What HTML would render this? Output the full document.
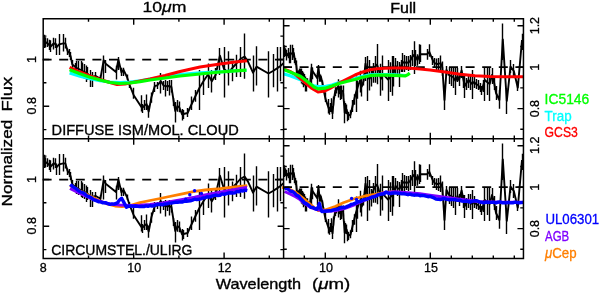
<!DOCTYPE html><html><head><meta charset="utf-8"><title>plot</title><style>html,body{margin:0;padding:0;background:#fff;overflow:hidden}svg{display:block}</style></head><body><svg width="600" height="293" viewBox="0 0 600 293">
<rect width="600" height="293" fill="#fff"/>
<path d="M42.6,59.55H51.6M59.2,59.55H68.2M75.8,59.55H84.8M92.4,59.55H101.4M109.0,59.55H118.0M125.6,59.55H134.6M142.2,59.55H151.2M158.8,59.55H167.8M175.4,59.55H184.4M192.0,59.55H201.0M208.6,59.55H217.6M225.2,59.55H234.2M241.8,59.55H250.8M258.4,59.55H267.4M275.0,59.55H283.6" stroke="#000" stroke-width="1.7" fill="none"/>
<path d="M283.0,67.2H292.0M299.6,67.2H308.6M316.2,67.2H325.2M332.8,67.2H341.8M349.4,67.2H358.4M366.0,67.2H375.0M382.6,67.2H391.6M399.2,67.2H408.2M415.8,67.2H424.8M432.4,67.2H441.4M449.0,67.2H458.0M465.6,67.2H474.6M482.2,67.2H491.2M498.8,67.2H507.8M515.4,67.2H523.5" stroke="#000" stroke-width="1.7" fill="none"/>
<path d="M42.6,179.55H51.6M59.2,179.55H68.2M75.8,179.55H84.8M92.4,179.55H101.4M109.0,179.55H118.0M125.6,179.55H134.6M142.2,179.55H151.2M158.8,179.55H167.8M175.4,179.55H184.4M192.0,179.55H201.0M208.6,179.55H217.6M225.2,179.55H234.2M241.8,179.55H250.8M258.4,179.55H267.4M275.0,179.55H283.6" stroke="#000" stroke-width="1.7" fill="none"/>
<path d="M283.0,187.2H292.0M299.6,187.2H308.6M316.2,187.2H325.2M332.8,187.2H341.8M349.4,187.2H358.4M366.0,187.2H375.0M382.6,187.2H391.6M399.2,187.2H408.2M415.8,187.2H424.8M432.4,187.2H441.4M449.0,187.2H458.0M465.6,187.2H474.6M482.2,187.2H491.2M498.8,187.2H507.8M515.4,187.2H523.5" stroke="#000" stroke-width="1.7" fill="none"/>
<g>
<path d="M44.5,34.7V48.0M45.5,37.2V47.4M47.5,38.2V47.0M49.5,39.8V50.0M50.5,40.3V52.0M53.5,37.7V49.5M55.5,38.2V48.0M56.5,43.4V55.1M59.5,34.1V55.1M63.5,34.1V51.5M65.5,37.7V48.5M67.5,48.5V55.0M69.5,49.0V57.0M70.5,52.0V60.0M72.5,60.0V68.0M75.5,63.0V72.0M76.5,60.9V74.0M78.5,60.9V75.0M81.5,60.9V77.0M82.5,62.4V78.0M84.5,63.9V79.0M86.5,65.5V82.0M87.5,67.0V80.0M90.5,70.0V87.0M92.5,72.0V87.0M95.5,72.0V80.0M100.5,75.0V82.0M103.5,55.5V79.4M105.5,60.0V73.0M116.5,65.7V79.4M118.5,57.0V70.0M121.5,67.8V76.0M123.5,67.8V76.0M127.5,74.6V80.0M129.5,82.0V88.0M133.5,87.7V98.7M141.5,95.2V111.6M142.5,104.0V113.0M144.5,100.0V110.0M146.5,94.6V110.0M148.5,105.5V117.8M151.5,92.5V102.8M154.5,82.0V92.0M157.5,82.0V89.0M160.5,73.0V93.5M163.5,81.0V90.0M165.5,80.0V96.6M167.5,81.0V91.0M169.5,80.0V95.5M171.5,80.0V92.5M173.5,98.0V106.0M175.5,102.0V122.6M177.5,100.0V111.7M179.5,101.4V112.3M182.5,109.0V120.5M183.5,110.0V119.0M187.5,108.0V117.0M191.5,96.6V110.0M195.5,90.0V101.8M199.5,70.0V110.0M203.5,74.5V95.0M208.5,63.4V88.0M211.5,70.0V92.4M215.5,68.0V80.0M219.5,48.0V75.0M224.5,47.0V97.5M228.5,51.3V85.6M232.5,61.5V81.3M236.5,54.7V77.0M240.5,47.0V77.0M244.5,33.4V78.8M253.5,55.6V91.6M256.5,46.2V85.6M268.5,51.3V97.5M273.5,54.0V87.3M277.5,47.0V91.6M280.5,47.0V81.3" stroke="#000" stroke-width="1.4" fill="none"/><path d="M43.5,41.3 L44.6,41.0 L45.9,42.5 L47.2,43.0 L49.2,45.0 L50.7,46.5 L53.1,44.0 L55.1,43.5 L56.9,47.0 L59.1,44.4 L63.3,43.4 L65.4,43.4 L67.6,51.0 L69.2,52.6 L70.7,56.7 L72.3,64.4 L75.4,67.0 L76.9,68.0 L78.9,69.0 L81.0,70.0 L82.7,71.0 L84.6,72.0 L86.4,73.0 L87.8,74.0 L90.0,76.0 L92.0,77.0 L95.8,76.0 L100.4,78.7 L103.7,60.2 L105.7,63.7 L116.0,72.0 L118.4,59.6 L121.5,72.5 L123.5,69.8 L127.0,77.0 L129.6,85.0 L133.7,95.2 L141.2,106.8 L142.5,107.5 L144.6,105.5 L146.6,104.0 L148.7,111.6 L151.4,97.3 L154.8,86.0 L157.3,85.3 L160.9,81.2 L163.4,85.3 L165.0,86.0 L167.0,86.3 L169.0,86.0 L171.4,87.0 L173.9,102.7 L175.3,111.0 L177.4,106.0 L179.4,107.5 L182.1,114.4 L183.5,114.0 L187.6,113.0 L191.0,105.5 L195.5,96.0 L199.4,88.0 L203.6,81.0 L208.0,74.5 L211.8,81.3 L215.6,75.0 L219.9,55.6 L224.0,69.0 L228.4,72.7 L232.7,67.5 L236.0,64.0 L240.3,59.0 L244.6,56.5 L248.0,61.6 L253.0,72.7 L256.5,66.7 L268.5,73.5 L273.0,71.0 L277.0,68.4 L280.4,66.0 L283.5,63.3" stroke="#000" stroke-width="1.9" fill="none" stroke-linejoin="round"/>
<path d="M44.5,154.7V168.0M45.5,157.2V167.4M47.5,158.2V167.0M49.5,159.8V170.0M50.5,160.3V172.0M53.5,157.7V169.5M55.5,158.2V168.0M56.5,163.4V175.1M59.5,154.1V175.1M63.5,154.1V171.5M65.5,157.7V168.5M67.5,168.5V175.0M69.5,169.0V177.0M70.5,172.0V180.0M72.5,180.0V188.0M75.5,183.0V192.0M76.5,180.9V194.0M78.5,180.9V195.0M81.5,180.9V197.0M82.5,182.4V198.0M84.5,183.9V199.0M86.5,185.5V202.0M87.5,187.0V200.0M90.5,190.0V207.0M92.5,192.0V207.0M95.5,192.0V200.0M100.5,195.0V202.0M103.5,175.5V199.4M105.5,180.0V193.0M116.5,185.7V199.4M118.5,177.0V190.0M121.5,187.8V196.0M123.5,187.8V196.0M127.5,194.6V200.0M129.5,202.0V208.0M133.5,207.7V218.7M141.5,215.2V231.6M142.5,224.0V233.0M144.5,220.0V230.0M146.5,214.6V230.0M148.5,225.5V237.8M151.5,212.5V222.8M154.5,202.0V212.0M157.5,202.0V209.0M160.5,193.0V213.5M163.5,201.0V210.0M165.5,200.0V216.6M167.5,201.0V211.0M169.5,200.0V215.5M171.5,200.0V212.5M173.5,218.0V226.0M175.5,222.0V242.6M177.5,220.0V231.7M179.5,221.4V232.3M182.5,229.0V240.5M183.5,230.0V239.0M187.5,228.0V237.0M191.5,216.6V230.0M195.5,210.0V221.8M199.5,190.0V230.0M203.5,194.5V215.0M208.5,183.4V208.0M211.5,190.0V212.4M215.5,188.0V200.0M219.5,168.0V195.0M224.5,167.0V217.5M228.5,171.3V205.6M232.5,181.5V201.3M236.5,174.7V197.0M240.5,167.0V197.0M244.5,153.4V198.8M253.5,175.6V211.6M256.5,166.2V205.6M268.5,171.3V217.5M273.5,174.0V207.3M277.5,167.0V211.6M280.5,167.0V201.3" stroke="#000" stroke-width="1.4" fill="none"/><path d="M43.5,161.3 L44.6,161.0 L45.9,162.5 L47.2,163.0 L49.2,165.0 L50.7,166.5 L53.1,164.0 L55.1,163.5 L56.9,167.0 L59.1,164.4 L63.3,163.4 L65.4,163.4 L67.6,171.0 L69.2,172.6 L70.7,176.7 L72.3,184.4 L75.4,187.0 L76.9,188.0 L78.9,189.0 L81.0,190.0 L82.7,191.0 L84.6,192.0 L86.4,193.0 L87.8,194.0 L90.0,196.0 L92.0,197.0 L95.8,196.0 L100.4,198.7 L103.7,180.2 L105.7,183.7 L116.0,192.0 L118.4,179.6 L121.5,192.5 L123.5,189.8 L127.0,197.0 L129.6,205.0 L133.7,215.2 L141.2,226.8 L142.5,227.5 L144.6,225.5 L146.6,224.0 L148.7,231.6 L151.4,217.3 L154.8,206.0 L157.3,205.3 L160.9,201.2 L163.4,205.3 L165.0,206.0 L167.0,206.3 L169.0,206.0 L171.4,207.0 L173.9,222.7 L175.3,231.0 L177.4,226.0 L179.4,227.5 L182.1,234.4 L183.5,234.0 L187.6,233.0 L191.0,225.5 L195.5,216.0 L199.4,208.0 L203.6,201.0 L208.0,194.5 L211.8,201.3 L215.6,195.0 L219.9,175.6 L224.0,189.0 L228.4,192.7 L232.7,187.5 L236.0,184.0 L240.3,179.0 L244.6,176.5 L248.0,181.6 L253.0,192.7 L256.5,186.7 L268.5,193.5 L273.0,191.0 L277.0,188.4 L280.4,186.0 L283.5,183.3" stroke="#000" stroke-width="1.9" fill="none" stroke-linejoin="round"/>
<path d="M284.5,45.2V57.0M284.5,47.4V56.5M285.5,48.3V56.1M286.5,49.7V58.8M286.5,50.2V60.5M288.5,47.9V58.3M288.5,48.3V57.0M289.5,52.9V63.3M290.5,44.7V63.3M292.5,44.7V60.1M293.5,47.9V57.4M294.5,57.4V63.2M295.5,57.9V65.0M296.5,60.5V67.6M296.5,67.6V74.7M298.5,70.3V78.3M299.5,68.4V80.1M300.5,68.4V80.9M301.5,68.4V82.7M301.5,69.8V83.6M302.5,71.1V84.5M303.5,72.5V87.2M304.5,73.9V85.4M305.5,76.5V91.6M306.5,78.3V91.6M307.5,78.3V85.4M310.5,80.9V87.2M311.5,63.7V84.9M312.5,67.6V79.2M317.5,72.7V84.9M318.5,65.0V76.5M319.5,74.6V81.8M320.5,74.6V81.8M322.5,80.6V85.4M323.5,87.2V92.5M325.5,92.2V102.0M328.5,98.9V113.4M329.5,106.7V114.7M330.5,103.1V112.0M331.5,98.3V112.0M332.5,108.0V118.9M333.5,96.5V105.6M335.5,87.2V96.0M336.5,87.2V93.4M338.5,79.2V97.4M339.5,86.3V94.3M340.5,85.4V100.1M340.5,86.3V95.1M341.5,85.4V99.1M343.5,85.4V96.5M344.5,101.3V108.4M344.5,104.9V123.2M345.5,103.1V113.5M346.5,104.4V114.0M347.5,111.1V121.3M348.5,112.0V120.0M350.5,110.2V118.2M352.5,100.1V112.0M354.5,94.3V104.7M356.5,76.5V112.0M357.5,80.5V98.7M360.5,70.7V92.5M361.5,76.5V96.4M363.5,74.7V85.4M365.5,57.0V80.9M367.5,56.1V100.9M369.5,59.9V90.4M371.5,69.0V86.5M373.5,62.9V82.7M375.5,56.1V82.7M377.5,44.0V84.3M380.5,63.7V95.7M382.5,55.4V90.4M388.5,59.9V100.9M390.5,62.3V91.9M392.5,56.1V95.7M393.5,56.1V86.5M395.5,58.0V74.0M397.5,61.0V76.0M399.5,62.0V87.0M401.5,60.0V72.0M402.5,53.0V72.0M404.5,55.0V72.0M406.5,56.0V70.0M408.5,56.0V71.0M410.5,55.0V70.0M412.5,50.0V66.0M414.5,41.2V74.0M415.5,50.0V66.0M417.5,54.3V65.7M419.5,44.2V64.0M420.5,44.8V62.0M427.5,49.0V59.7M429.5,44.2V56.7M432.5,56.0V65.0M434.5,58.0V67.5M436.5,58.5V70.0M438.5,58.0V71.0M440.5,55.5V72.0M442.5,61.5V76.0M444.5,90.0V110.0M446.5,66.0V76.0M449.5,67.0V84.0M451.5,67.0V86.0M453.5,67.0V88.0M455.5,67.0V95.0M457.5,68.0V82.0M459.5,74.0V86.0M461.5,66.0V78.0M463.5,75.0V88.0M464.5,75.0V98.0M466.5,78.0V90.0M468.5,74.0V88.0M470.5,74.0V90.0M472.5,70.0V99.0M474.5,76.0V88.0M476.5,79.0V89.0M478.5,80.0V90.0M480.5,83.0V92.0M481.5,86.0V95.0M483.5,80.0V92.0M484.5,67.0V101.0M487.5,67.0V95.0M489.5,67.0V101.0M492.5,68.0V84.0M494.5,76.0V90.0M496.5,86.0V100.0M499.5,90.0V108.8M502.5,23.4V60.0M506.5,88.0V114.0M510.5,60.0V73.0M513.5,64.0V78.0M517.5,82.0V91.0M522.5,33.8V50.0" stroke="#000" stroke-width="1.4" fill="none"/><path d="M283.6,51.1 L284.1,50.8 L284.7,52.1 L285.3,52.6 L286.2,54.3 L286.9,55.7 L288.1,53.5 L289.0,53.0 L289.8,56.1 L290.8,53.8 L292.8,52.9 L293.8,52.9 L294.8,59.7 L295.5,61.1 L296.2,64.7 L297.0,71.5 L298.4,73.9 L299.1,74.7 L300.0,75.6 L301.0,76.5 L301.8,77.4 L302.7,78.3 L303.5,79.2 L304.2,80.1 L305.2,81.8 L306.1,82.7 L307.9,81.8 L310.0,84.2 L311.6,67.8 L312.5,70.9 L317.3,78.3 L318.4,67.3 L319.8,78.7 L320.8,76.3 L322.4,82.7 L323.6,89.8 L325.5,98.9 L329.0,109.2 L329.6,109.8 L330.6,108.0 L331.5,106.7 L332.5,113.4 L333.7,100.7 L335.3,90.7 L336.5,90.1 L338.1,86.4 L339.3,90.1 L340.0,90.7 L341.0,91.0 L341.9,90.7 L343.0,91.6 L344.2,105.5 L344.8,112.9 L345.8,108.4 L346.7,109.8 L348.0,115.9 L348.6,115.5 L350.5,114.7 L352.1,108.0 L354.2,99.6 L356.0,92.5 L358.0,86.3 L360.0,80.5 L361.8,86.5 L363.6,80.9 L365.5,63.7 L367.5,75.6 L369.5,78.9 L371.5,74.3 L373.0,71.2 L375.0,66.8 L377.0,64.5 L378.6,69.1 L380.9,78.9 L382.6,73.6 L388.1,79.6 L390.2,77.4 L392.1,75.1 L393.7,73.0 L395.5,66.0 L397.3,68.0 L399.4,69.0 L401.0,66.0 L402.9,62.0 L404.7,63.0 L406.5,62.0 L408.3,63.0 L410.0,61.0 L412.2,57.0 L414.0,55.0 L415.8,57.0 L417.5,60.0 L419.9,55.0 L420.8,54.3 L427.0,54.3 L429.4,52.0 L432.8,60.3 L434.6,63.0 L436.4,64.0 L438.4,64.0 L440.6,63.0 L442.3,67.0 L444.5,100.0 L446.5,70.0 L449.0,75.0 L451.0,76.0 L453.0,77.0 L455.6,81.0 L457.5,76.0 L459.0,80.0 L461.6,70.5 L463.5,80.0 L464.8,86.0 L466.5,83.0 L468.5,80.0 L470.3,82.0 L472.3,84.0 L474.0,82.0 L476.0,84.0 L478.0,85.0 L480.0,88.0 L481.5,91.0 L483.0,86.0 L484.8,80.0 L487.0,82.0 L489.7,84.0 L492.0,75.0 L494.0,82.0 L496.0,93.0 L499.4,100.0 L502.8,39.4 L506.8,101.0 L510.5,66.6 L513.8,71.0 L517.8,87.7 L522.0,40.0" stroke="#000" stroke-width="1.9" fill="none" stroke-linejoin="round"/>
<path d="M284.5,165.2V177.0M284.5,167.4V176.5M285.5,168.3V176.1M286.5,169.7V178.8M286.5,170.2V180.5M288.5,167.9V178.3M288.5,168.3V177.0M289.5,172.9V183.3M290.5,164.7V183.3M292.5,164.7V180.1M293.5,167.9V177.4M294.5,177.4V183.2M295.5,177.9V185.0M296.5,180.5V187.6M296.5,187.6V194.7M298.5,190.3V198.3M299.5,188.4V200.1M300.5,188.4V200.9M301.5,188.4V202.7M301.5,189.8V203.6M302.5,191.1V204.5M303.5,192.5V207.2M304.5,193.9V205.4M305.5,196.5V211.6M306.5,198.3V211.6M307.5,198.3V205.4M310.5,200.9V207.2M311.5,183.7V204.9M312.5,187.6V199.2M317.5,192.7V204.9M318.5,185.0V196.5M319.5,194.6V201.8M320.5,194.6V201.8M322.5,200.6V205.4M323.5,207.2V212.5M325.5,212.2V222.0M328.5,218.9V233.4M329.5,226.7V234.7M330.5,223.1V232.0M331.5,218.3V232.0M332.5,228.0V238.9M333.5,216.5V225.6M335.5,207.2V216.0M336.5,207.2V213.4M338.5,199.2V217.4M339.5,206.3V214.3M340.5,205.4V220.1M340.5,206.3V215.1M341.5,205.4V219.1M343.5,205.4V216.5M344.5,221.3V228.4M344.5,224.9V243.2M345.5,223.1V233.5M346.5,224.4V234.0M347.5,231.1V241.3M348.5,232.0V240.0M350.5,230.2V238.2M352.5,220.1V232.0M354.5,214.3V224.7M356.5,196.5V232.0M357.5,200.5V218.7M360.5,190.7V212.5M361.5,196.5V216.4M363.5,194.7V205.4M365.5,177.0V200.9M367.5,176.1V220.9M369.5,179.9V210.4M371.5,189.0V206.5M373.5,182.9V202.7M375.5,176.1V202.7M377.5,164.0V204.3M380.5,183.7V215.7M382.5,175.4V210.4M388.5,179.9V220.9M390.5,182.3V211.9M392.5,176.1V215.7M393.5,176.1V206.5M395.5,178.0V194.0M397.5,181.0V196.0M399.5,182.0V207.0M401.5,180.0V192.0M402.5,173.0V192.0M404.5,175.0V192.0M406.5,176.0V190.0M408.5,176.0V191.0M410.5,175.0V190.0M412.5,170.0V186.0M414.5,161.2V194.0M415.5,170.0V186.0M417.5,174.3V185.7M419.5,164.2V184.0M420.5,164.8V182.0M427.5,169.0V179.7M429.5,164.2V176.7M432.5,176.0V185.0M434.5,178.0V187.5M436.5,178.5V190.0M438.5,178.0V191.0M440.5,175.5V192.0M442.5,181.5V196.0M444.5,210.0V230.0M446.5,186.0V196.0M449.5,187.0V204.0M451.5,187.0V206.0M453.5,187.0V208.0M455.5,187.0V215.0M457.5,188.0V202.0M459.5,194.0V206.0M461.5,186.0V198.0M463.5,195.0V208.0M464.5,195.0V218.0M466.5,198.0V210.0M468.5,194.0V208.0M470.5,194.0V210.0M472.5,190.0V219.0M474.5,196.0V208.0M476.5,199.0V209.0M478.5,200.0V210.0M480.5,203.0V212.0M481.5,206.0V215.0M483.5,200.0V212.0M484.5,187.0V221.0M487.5,187.0V215.0M489.5,187.0V221.0M492.5,188.0V204.0M494.5,196.0V210.0M496.5,206.0V220.0M499.5,210.0V228.8M502.5,143.4V180.0M506.5,208.0V234.0M510.5,180.0V193.0M513.5,184.0V198.0M517.5,202.0V211.0M522.5,153.8V170.0" stroke="#000" stroke-width="1.4" fill="none"/><path d="M283.6,171.1 L284.1,170.8 L284.7,172.1 L285.3,172.6 L286.2,174.3 L286.9,175.7 L288.1,173.5 L289.0,173.0 L289.8,176.1 L290.8,173.8 L292.8,172.9 L293.8,172.9 L294.8,179.7 L295.5,181.1 L296.2,184.7 L297.0,191.5 L298.4,193.9 L299.1,194.7 L300.0,195.6 L301.0,196.5 L301.8,197.4 L302.7,198.3 L303.5,199.2 L304.2,200.1 L305.2,201.8 L306.1,202.7 L307.9,201.8 L310.0,204.2 L311.6,187.8 L312.5,190.9 L317.3,198.3 L318.4,187.3 L319.8,198.7 L320.8,196.3 L322.4,202.7 L323.6,209.8 L325.5,218.9 L329.0,229.2 L329.6,229.8 L330.6,228.0 L331.5,226.7 L332.5,233.4 L333.7,220.7 L335.3,210.7 L336.5,210.1 L338.1,206.4 L339.3,210.1 L340.0,210.7 L341.0,211.0 L341.9,210.7 L343.0,211.6 L344.2,225.5 L344.8,232.9 L345.8,228.4 L346.7,229.8 L348.0,235.9 L348.6,235.5 L350.5,234.7 L352.1,228.0 L354.2,219.6 L356.0,212.5 L358.0,206.3 L360.0,200.5 L361.8,206.5 L363.6,200.9 L365.5,183.7 L367.5,195.6 L369.5,198.9 L371.5,194.3 L373.0,191.2 L375.0,186.8 L377.0,184.5 L378.6,189.1 L380.9,198.9 L382.6,193.6 L388.1,199.6 L390.2,197.4 L392.1,195.1 L393.7,193.0 L395.5,186.0 L397.3,188.0 L399.4,189.0 L401.0,186.0 L402.9,182.0 L404.7,183.0 L406.5,182.0 L408.3,183.0 L410.0,181.0 L412.2,177.0 L414.0,175.0 L415.8,177.0 L417.5,180.0 L419.9,175.0 L420.8,174.3 L427.0,174.3 L429.4,172.0 L432.8,180.3 L434.6,183.0 L436.4,184.0 L438.4,184.0 L440.6,183.0 L442.3,187.0 L444.5,220.0 L446.5,190.0 L449.0,195.0 L451.0,196.0 L453.0,197.0 L455.6,201.0 L457.5,196.0 L459.0,200.0 L461.6,190.5 L463.5,200.0 L464.8,206.0 L466.5,203.0 L468.5,200.0 L470.3,202.0 L472.3,204.0 L474.0,202.0 L476.0,204.0 L478.0,205.0 L480.0,208.0 L481.5,211.0 L483.0,206.0 L484.8,200.0 L487.0,202.0 L489.7,204.0 L492.0,195.0 L494.0,202.0 L496.0,213.0 L499.4,220.0 L502.8,159.4 L506.8,221.0 L510.5,186.6 L513.8,191.0 L517.8,207.7 L522.0,160.0" stroke="#000" stroke-width="1.9" fill="none" stroke-linejoin="round"/>
</g>
<path d="M69.6,73.0 L80.0,76.2 L90.0,78.8 L100.0,80.7 L110.0,82.0 L120.0,82.6 L130.0,82.0 L140.0,80.8 L150.0,79.0 L165.0,76.7 L180.0,74.6 L200.0,72.8 L215.0,72.0 L225.0,71.6 L235.0,70.8 L246.5,70.2" stroke="#00ffff" stroke-width="3.1" fill="none" stroke-linejoin="round" stroke-linecap="butt"/>
<path d="M69.6,67.3 L80.0,72.0 L90.0,76.0 L100.0,79.5 L110.0,82.5 L117.0,84.5 L125.0,84.0 L135.0,82.0 L150.0,79.0 L165.0,75.5 L180.0,71.5 L200.0,67.0 L220.0,64.0 L235.0,62.0 L247.0,60.7" stroke="#ff0000" stroke-width="3.0" fill="none" stroke-linejoin="round" stroke-linecap="butt"/>
<path d="M69.6,69.8 L80.0,73.8 L90.0,77.2 L100.0,80.0 L110.0,82.5 L120.0,83.5 L130.0,83.0 L140.0,81.7 L150.0,80.0 L165.0,78.0 L180.0,76.0 L200.0,74.0 L220.0,72.0 L235.0,70.8 L246.5,70.2" stroke="#00ff00" stroke-width="3.2" fill="none" stroke-linejoin="round" stroke-linecap="butt"/>
<path d="M283.6,73.7 L290.0,75.8 L300.5,79.9 L308.0,83.5 L314.0,85.8 L318.0,86.6 L325.0,86.6 L332.0,85.0 L340.0,82.2 L347.5,80.2 L355.0,78.4 L362.0,76.5 L370.0,74.8 L378.0,74.5 L385.0,74.5 L395.0,74.8 L405.0,75.5" stroke="#00ffff" stroke-width="3.1" fill="none" stroke-linejoin="round" stroke-linecap="butt"/>
<path d="M283.6,68.8 L290.0,71.3 L296.0,75.0 L305.0,82.5 L312.0,88.5 L318.0,92.0 L325.0,90.9 L330.0,88.5 L335.0,85.5 L340.0,82.5 L347.5,78.8 L355.0,75.0 L362.0,72.2 L370.0,69.7 L377.0,68.7 L385.0,68.2 L393.0,67.9 L405.0,68.1 L415.0,68.5 L430.0,69.9 L445.0,72.0 L460.0,74.2 L475.0,75.8 L490.0,76.5 L505.0,76.8 L523.5,76.7" stroke="#ff0000" stroke-width="3.0" fill="none" stroke-linejoin="round" stroke-linecap="butt"/>
<path d="M283.6,69.6 L290.0,71.9 L300.5,76.2 L308.0,82.0 L314.0,87.0 L318.0,88.9 L325.0,88.2 L332.0,86.0 L340.0,83.2 L347.5,81.3 L355.0,79.5 L362.0,77.5 L370.0,75.7 L378.0,75.2 L385.0,75.0 L393.0,75.3 L400.0,75.7 L405.0,76.0 L408.0,74.6 L409.7,73.0" stroke="#00ff00" stroke-width="3.2" fill="none" stroke-linejoin="round" stroke-linecap="butt"/>
<path d="M70.0,185.5 L80.0,191.0 L90.0,196.0 L100.0,201.0 L108.0,204.2 L115.0,206.0 L122.0,206.6 L130.0,205.5 L140.0,202.6 L150.0,200.5 L160.0,198.5 L167.0,197.0 L180.0,194.3 L194.6,191.4 L205.0,190.0 L220.0,188.7 L235.0,187.0 L247.3,185.6" stroke="#ff7f00" stroke-width="2.8" fill="none" stroke-linejoin="round" stroke-linecap="butt"/>
<path d="M70.0,188.5 L80.0,193.5 L90.0,198.0 L100.0,201.5 L110.0,204.0 L120.0,205.0 L130.0,205.5 L140.0,205.3 L150.0,204.6 L160.0,203.5 L167.0,202.3 L180.0,200.0 L194.6,197.3 L205.0,195.0 L220.0,192.2 L235.0,189.5 L245.0,187.8 L247.0,187.6" stroke="#7f00ff" stroke-width="3.0" fill="none" stroke-linejoin="round" stroke-linecap="butt"/>
<path d="M70.2,184.5 L73.1,186.9 L76.0,188.6 L78.2,190.3 L80.3,191.8 L82.5,192.5 L84.7,193.7 L86.8,195.9 L89.0,196.5 L91.4,197.7 L93.8,199.9 L96.2,200.6 L98.5,201.7 L100.7,201.9 L103.0,202.8 L105.3,202.6 L107.7,203.7 L110.0,204.4 L112.0,203.9 L114.0,204.1 L117.5,202.8 L119.5,200.0 L121.6,198.2 L124.0,202.6 L126.4,207.2 L129.5,205.9 L133.2,206.4 L135.4,206.0 L137.6,206.4 L139.8,206.6 L142.0,206.5 L144.0,206.6 L146.0,205.9 L148.0,206.3 L150.0,205.7 L152.0,206.1 L154.0,205.8 L156.0,204.7 L158.0,204.5 L160.0,204.4 L162.3,204.9 L164.7,204.0 L167.0,203.9 L169.2,203.1 L171.3,203.1 L173.5,202.6 L175.7,202.3 L177.8,202.2 L180.0,201.9 L182.1,202.0 L184.2,201.4 L186.3,201.4 L188.3,201.0 L190.4,200.8 L192.5,200.1 L194.6,199.2 L196.7,199.6 L198.8,199.3 L200.8,198.8 L202.9,198.0 L205.0,197.8 L207.1,196.8 L209.3,197.1 L211.4,196.4 L213.6,195.7 L215.7,195.0 L217.9,195.6 L220.0,195.4 L222.1,193.9 L224.3,194.4 L226.4,193.6 L228.6,193.0 L230.7,192.8 L232.9,193.0 L235.0,192.7 L237.0,191.4 L239.0,191.7 L241.0,190.6 L243.0,191.0 L245.0,190.2 L247.3,190.7" stroke="#0000ff" stroke-width="3.4" fill="none" stroke-linejoin="round" stroke-linecap="butt"/>
<path d="M282.0,187.3 L286.0,188.0 L290.0,189.5 L296.0,192.5 L303.0,198.0 L310.0,204.0 L318.0,210.5 L325.0,210.0 L335.0,206.5 L343.3,202.8 L355.0,198.5 L365.0,196.0 L375.0,194.3 L385.0,192.5 L394.4,191.6" stroke="#ff7f00" stroke-width="2.8" fill="none" stroke-linejoin="round" stroke-linecap="butt"/>
<path d="M284.5,191.5 L290.0,194.0 L296.0,197.0 L300.0,199.5 L304.6,203.5 L310.8,207.5 L318.0,209.8 L326.0,211.3 L335.0,210.8 L345.0,208.3 L355.0,204.5 L365.0,200.0 L375.0,195.8 L385.0,192.5 L395.0,191.8 L405.0,192.6 L420.0,193.8 L430.0,195.2 L445.0,197.3 L460.0,199.2 L470.0,200.6 L480.0,201.8 L500.0,202.2 L523.5,202.2" stroke="#7f00ff" stroke-width="3.0" fill="none" stroke-linejoin="round" stroke-linecap="butt"/>
<path d="M284.5,187.4 L286.2,188.5 L288.2,189.2 L290.3,191.0 L292.3,191.5 L294.4,192.9 L296.4,195.1 L298.5,196.1 L300.5,198.4 L302.6,200.6 L304.6,202.9 L306.7,203.9 L308.7,205.1 L310.8,207.4 L312.8,207.4 L314.9,208.7 L316.9,209.3 L318.5,206.4 L319.4,203.4 L320.5,208.0 L321.8,211.5 L324.3,211.3 L326.7,211.0 L329.2,210.8 L331.3,210.7 L333.3,209.9 L335.4,209.4 L337.7,209.1 L340.0,208.0 L342.4,207.5 L344.9,207.5 L347.3,206.4 L349.4,205.6 L351.4,204.3 L353.5,203.9 L355.5,203.2 L357.6,201.8 L359.6,201.6 L361.7,200.9 L363.7,199.6 L365.8,199.5 L367.8,198.6 L369.8,198.1 L371.9,197.1 L373.9,196.8 L376.0,196.1 L378.0,194.8 L380.1,194.2 L382.1,194.1 L384.2,193.8 L386.0,192.1 L389.0,193.6 L391.0,193.5 L393.0,193.0 L395.0,192.9 L397.5,193.1 L400.0,193.5 L402.0,193.9 L404.0,193.8 L406.0,194.1 L408.0,194.7 L410.0,194.1 L412.0,194.8 L414.0,195.2 L416.0,194.9 L418.0,195.0 L420.0,195.7 L422.0,195.4 L424.0,195.6 L426.0,196.2 L428.0,196.7 L430.0,196.4 L432.0,197.2 L434.0,197.9 L436.0,199.0 L438.0,199.2 L440.3,199.6 L442.7,198.8 L445.0,198.8 L447.1,199.4 L449.3,199.8 L451.4,199.6 L453.6,199.6 L455.7,199.8 L457.9,200.4 L460.0,200.3 L462.0,201.1 L464.0,201.4 L466.0,201.0 L468.0,201.3 L470.0,202.1 L472.9,201.2 L475.8,200.6 L477.9,201.2 L480.0,202.1 L482.0,202.3 L484.0,202.8 L486.0,202.2 L488.0,202.3 L490.0,202.4 L492.0,202.4 L494.0,202.3 L496.0,202.8 L498.0,202.1 L500.0,201.9 L502.1,202.8 L504.3,202.8 L506.4,202.9 L508.5,202.3 L510.7,202.9 L512.8,202.8 L514.9,202.1 L517.1,202.6 L519.2,202.7 L521.3,202.6 L523.5,202.4" stroke="#0000ff" stroke-width="3.4" fill="none" stroke-linejoin="round" stroke-linecap="butt"/>
<circle cx="185.7" cy="199.3" r="1.7" fill="#0000ff"/>
<circle cx="189.8" cy="194.8" r="1.7" fill="#0000ff"/>
<circle cx="194.6" cy="190.7" r="1.7" fill="#0000ff"/>
<circle cx="201.4" cy="193.4" r="1.7" fill="#0000ff"/>
<circle cx="351.6" cy="198.4" r="1.7" fill="#0000ff"/>
<circle cx="356.5" cy="199.4" r="1.7" fill="#0000ff"/>
<path d="M43.2,18.65H523.45V258.6H43.2Z M283.6,18.65V258.6 M43.2,138.7H523.45" stroke="#000" stroke-width="1.5" fill="none"/>
<path d="M88.5,18.65v3.2 M88.5,135.5v6.4 M88.5,258.6v-3.2 M133.7,18.65v6.0 M133.7,132.7v12.0 M133.7,258.6v-6.0 M178.9,18.65v3.2 M178.9,135.5v6.4 M178.9,258.6v-3.2 M224.1,18.65v6.0 M224.1,132.7v12.0 M224.1,258.6v-6.0 M269.3,18.65v3.2 M269.3,135.5v6.4 M269.3,258.6v-3.2 M304.3,18.65v3.2 M304.3,135.5v6.4 M304.3,258.6v-3.2 M325.3,18.65v6.0 M325.3,132.7v12.0 M325.3,258.6v-6.0 M346.3,18.65v3.2 M346.3,135.5v6.4 M346.3,258.6v-3.2 M367.3,18.65v3.2 M367.3,135.5v6.4 M367.3,258.6v-3.2 M388.3,18.65v3.2 M388.3,135.5v6.4 M388.3,258.6v-3.2 M409.3,18.65v3.2 M409.3,135.5v6.4 M409.3,258.6v-3.2 M430.3,18.65v6.0 M430.3,132.7v12.0 M430.3,258.6v-6.0 M451.3,18.65v3.2 M451.3,135.5v6.4 M451.3,258.6v-3.2 M472.3,18.65v3.2 M472.3,135.5v6.4 M472.3,258.6v-3.2 M493.3,18.65v3.2 M493.3,135.5v6.4 M493.3,258.6v-3.2 M514.3,18.65v3.2 M514.3,135.5v6.4 M514.3,258.6v-3.2 M43.2,36.1h3.2 M283.6,36.1h-3.2 M43.2,59.5h6.0 M283.6,59.5h-6.0 M43.2,82.8h3.2 M283.6,82.8h-3.2 M43.2,106.2h6.0 M283.6,106.2h-6.0 M43.2,129.6h3.2 M283.6,129.6h-3.2 M283.6,25.8h6.0 M523.45,25.8h-6.0 M283.6,46.5h3.2 M523.45,46.5h-3.2 M283.6,67.2h6.0 M523.45,67.2h-6.0 M283.6,87.9h3.2 M523.45,87.9h-3.2 M283.6,108.6h6.0 M523.45,108.6h-6.0 M283.6,129.3h3.2 M523.45,129.3h-3.2 M43.2,156.1h3.2 M283.6,156.1h-3.2 M43.2,179.5h6.0 M283.6,179.5h-6.0 M43.2,202.8h3.2 M283.6,202.8h-3.2 M43.2,226.2h6.0 M283.6,226.2h-6.0 M43.2,249.6h3.2 M283.6,249.6h-3.2 M283.6,145.8h6.0 M523.45,145.8h-6.0 M283.6,166.5h3.2 M523.45,166.5h-3.2 M283.6,187.2h6.0 M523.45,187.2h-6.0 M283.6,207.9h3.2 M523.45,207.9h-3.2 M283.6,228.6h6.0 M523.45,228.6h-6.0 M283.6,249.3h3.2 M523.45,249.3h-3.2 " stroke="#000" stroke-width="1.4" fill="none"/>
<text x="142.4" y="12.4" font-size="15.2" font-family="Liberation Sans, sans-serif" text-anchor="start" fill="#000" stroke="#000" stroke-width="0.3" textLength="44" lengthAdjust="spacingAndGlyphs" >10<tspan font-style="italic">μ</tspan>m</text>
<text x="390.3" y="12.7" font-size="15.4" font-family="Liberation Sans, sans-serif" text-anchor="start" fill="#000" stroke="#000" stroke-width="0.4" textLength="25.8" lengthAdjust="spacingAndGlyphs" >Full</text>
<text x="51.6" y="135.4" font-size="15.2" font-family="Liberation Sans, sans-serif" text-anchor="start" fill="#000" stroke="#000" stroke-width="0.35" textLength="187.2" lengthAdjust="spacingAndGlyphs" >DIFFUSE ISM/MOL. CLOUD</text>
<text x="51.2" y="255.4" font-size="15.2" font-family="Liberation Sans, sans-serif" text-anchor="start" fill="#000" stroke="#000" stroke-width="0.35" textLength="141.3" lengthAdjust="spacingAndGlyphs" >CIRCUMSTEL./ULIRG</text>
<text x="215.7" y="288.7" font-size="15" font-family="Liberation Sans, sans-serif" text-anchor="start" fill="#000" stroke="#000" stroke-width="0.35" textLength="85.3" lengthAdjust="spacingAndGlyphs" >Wavelength</text>
<text x="312" y="288.7" font-size="15" font-family="Liberation Sans, sans-serif" text-anchor="start" fill="#000" stroke="#000" stroke-width="0.35" textLength="38.2" lengthAdjust="spacingAndGlyphs" >(<tspan font-style="italic">μ</tspan>m)</text>
<text x="12" y="206.4" font-size="15" font-family="Liberation Sans, sans-serif" text-anchor="start" fill="#000" stroke="#000" stroke-width="0.35" textLength="86.6" lengthAdjust="spacingAndGlyphs" transform="rotate(-90 12 206.4)" >Normalized</text>
<text x="12" y="111.6" font-size="15" font-family="Liberation Sans, sans-serif" text-anchor="start" fill="#000" stroke="#000" stroke-width="0.35" textLength="34.8" lengthAdjust="spacingAndGlyphs" transform="rotate(-90 12 111.6)" >Flux</text>
<text x="43.3" y="272" font-size="12.5" font-family="Liberation Sans, sans-serif" text-anchor="middle" fill="#000" stroke="#000" stroke-width="0.3" >8</text>
<text x="134.2" y="272" font-size="12.5" font-family="Liberation Sans, sans-serif" text-anchor="middle" fill="#000" stroke="#000" stroke-width="0.3" >10</text>
<text x="224.6" y="272" font-size="12.5" font-family="Liberation Sans, sans-serif" text-anchor="middle" fill="#000" stroke="#000" stroke-width="0.3" >12</text>
<text x="326" y="272" font-size="12.5" font-family="Liberation Sans, sans-serif" text-anchor="middle" fill="#000" stroke="#000" stroke-width="0.3" >10</text>
<text x="431" y="272" font-size="12.5" font-family="Liberation Sans, sans-serif" text-anchor="middle" fill="#000" stroke="#000" stroke-width="0.3" >15</text>
<text x="36" y="59.5" font-size="12.5" font-family="Liberation Sans, sans-serif" text-anchor="middle" fill="#000" stroke="#000" stroke-width="0.3" transform="rotate(-90 36 59.5)" >1</text>
<text x="36" y="105.7" font-size="12.5" font-family="Liberation Sans, sans-serif" text-anchor="middle" fill="#000" stroke="#000" stroke-width="0.3" transform="rotate(-90 36 105.7)" >0.8</text>
<text x="538.6" y="25.6" font-size="12.5" font-family="Liberation Sans, sans-serif" text-anchor="middle" fill="#000" stroke="#000" stroke-width="0.3" transform="rotate(-90 538.6 25.6)" >1.2</text>
<text x="538.6" y="67.2" font-size="12.5" font-family="Liberation Sans, sans-serif" text-anchor="middle" fill="#000" stroke="#000" stroke-width="0.3" transform="rotate(-90 538.6 67.2)" >1</text>
<text x="538.6" y="108.6" font-size="12.5" font-family="Liberation Sans, sans-serif" text-anchor="middle" fill="#000" stroke="#000" stroke-width="0.3" transform="rotate(-90 538.6 108.6)" >0.8</text>
<text x="36" y="179.5" font-size="12.5" font-family="Liberation Sans, sans-serif" text-anchor="middle" fill="#000" stroke="#000" stroke-width="0.3" transform="rotate(-90 36 179.5)" >1</text>
<text x="36" y="225.7" font-size="12.5" font-family="Liberation Sans, sans-serif" text-anchor="middle" fill="#000" stroke="#000" stroke-width="0.3" transform="rotate(-90 36 225.7)" >0.8</text>
<text x="538.6" y="145.2" font-size="12.5" font-family="Liberation Sans, sans-serif" text-anchor="middle" fill="#000" stroke="#000" stroke-width="0.3" transform="rotate(-90 538.6 145.2)" >1.2</text>
<text x="538.6" y="187.2" font-size="12.5" font-family="Liberation Sans, sans-serif" text-anchor="middle" fill="#000" stroke="#000" stroke-width="0.3" transform="rotate(-90 538.6 187.2)" >1</text>
<text x="538.6" y="228.6" font-size="12.5" font-family="Liberation Sans, sans-serif" text-anchor="middle" fill="#000" stroke="#000" stroke-width="0.3" transform="rotate(-90 538.6 228.6)" >0.8</text>
<text x="544.6" y="103.9" font-size="14" font-family="Liberation Sans, sans-serif" text-anchor="start" fill="#00ff00" stroke="#00ff00" stroke-width="0.3" textLength="44.7" lengthAdjust="spacingAndGlyphs" >IC5146</text>
<text x="544.6" y="120.8" font-size="14" font-family="Liberation Sans, sans-serif" text-anchor="start" fill="#00ffff" stroke="#00ffff" stroke-width="0.3" textLength="27" lengthAdjust="spacingAndGlyphs" >Trap</text>
<text x="544.6" y="136.5" font-size="14" font-family="Liberation Sans, sans-serif" text-anchor="start" fill="#ff0000" stroke="#ff0000" stroke-width="0.3" textLength="33.2" lengthAdjust="spacingAndGlyphs" >GCS3</text>
<text x="545.4" y="224.2" font-size="14" font-family="Liberation Sans, sans-serif" text-anchor="start" fill="#0000ff" stroke="#0000ff" stroke-width="0.3" textLength="53.8" lengthAdjust="spacingAndGlyphs" >UL06301</text>
<text x="545" y="241" font-size="14" font-family="Liberation Sans, sans-serif" text-anchor="start" fill="#7f00ff" stroke="#7f00ff" stroke-width="0.3" textLength="24.2" lengthAdjust="spacingAndGlyphs" >AGB</text>
<text x="545" y="258.3" font-size="14" font-family="Liberation Sans, sans-serif" text-anchor="start" fill="#ff7f00" stroke="#ff7f00" stroke-width="0.3" textLength="31.6" lengthAdjust="spacingAndGlyphs" ><tspan font-style="italic">μ</tspan>Cep</text>
</svg></body></html>
